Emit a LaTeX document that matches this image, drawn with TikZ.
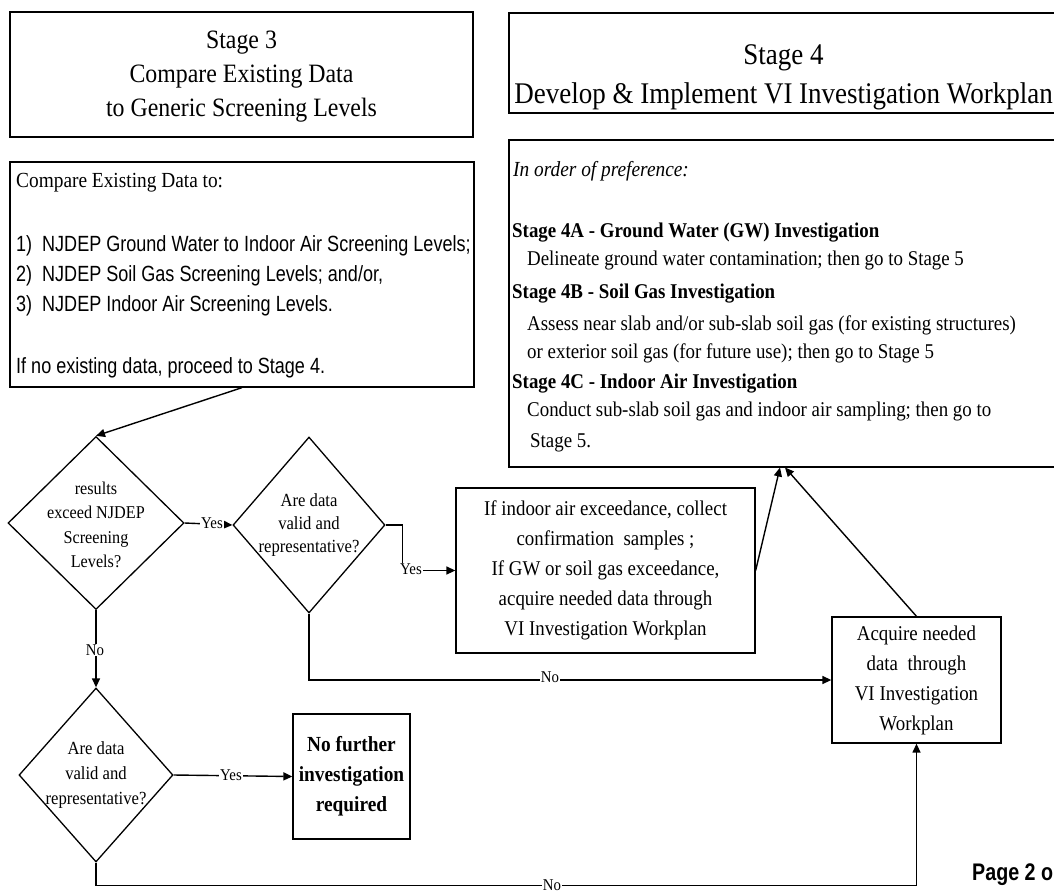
\documentclass[tikz,border=0pt]{standalone}
\usepackage{fontspec}
\setmainfont{Liberation Serif}[FakeStretch=0.9]
\newfontfamily\nsans{Liberation Sans}[FakeStretch=0.82]
\usetikzlibrary{shapes.geometric,arrows.meta}
\newcommand\myfs[2]{\fontsize{#1}{#2}\selectfont}
\tikzset{
  box/.style={draw, line width=1.3pt, inner sep=0pt, align=center},
  dia/.style={draw, diamond, line width=1.3pt, inner sep=0pt},
  con/.style={line width=1.4pt},
  arr/.style={line width=1.4pt, -{Triangle[length=9pt,width=8pt]}},
  lbl/.style={fill=white, inner sep=1pt, font=\myfs{16.5}{16.5}},
  ltxt/.style={anchor=base west, inner sep=0pt},
  dtxt/.style={align=center, inner sep=0pt},
}
\begin{document}
\begin{tikzpicture}[x=1pt,y=-1pt]
\useasboundingbox (0,0) rectangle (1054,894);
\clip (0,0) rectangle (1054,894);
\fill[white] (0,0) rectangle (1054,894);

% ---------- Stage 3 ----------
\node[box, minimum width=463pt, minimum height=125pt] (s3t) at (241.5,74.5) {};
\node[dtxt, font=\myfs{26.5}{34}] (s3tt) at (241.5,77) {Stage 3\\Compare Existing Data\\to Generic Screening Levels};

\node[box, minimum width=464pt, minimum height=225pt] (s3b) at (242,274.5) {};
\node[ltxt, font=\myfs{21.5}{21.5}] (s3h) at (16,187) {Compare Existing Data to:};
\node[ltxt, font=\nsans\myfs{22}{22}] (n1) at (16,251) {1)};
\node[ltxt, font=\nsans\myfs{22}{22}] (t1) at (42,251) {NJDEP Ground Water to Indoor Air Screening Levels;};
\node[ltxt, font=\nsans\myfs{22}{22}] (n2) at (16,281) {2)};
\node[ltxt, font=\nsans\myfs{22}{22}] (t2) at (42,281) {NJDEP Soil Gas Screening Levels; and/or,};
\node[ltxt, font=\nsans\myfs{22}{22}] (n3) at (16,311) {3)};
\node[ltxt, font=\nsans\myfs{22}{22}] (t3) at (42,311) {NJDEP Indoor Air Screening Levels.};
\node[ltxt, font=\nsans\myfs{22}{22}] (t4) at (16,373) {If no existing data, proceed to Stage 4.};

% ---------- Stage 4 ----------
\node[box, minimum width=691pt, minimum height=100pt] (s4t) at (854.5,63) {};
\node[dtxt, font=\myfs{30}{39}] (s4tt) at (783.5,77.5) {Stage 4\\Develop \& Implement VI Investigation Workplan};

\node[box, minimum width=691pt, minimum height=327pt] (s4b) at (854.5,303.5) {};
\node[ltxt, font=\itshape\myfs{21.5}{21.5}] (s4i) at (513,176) {In order of preference:};
\node[ltxt, font=\bfseries\myfs{21}{21}] (s4a) at (512,237) {Stage 4A - Ground Water (GW) Investigation};
\node[ltxt, font=\myfs{21}{21}] (s4a1) at (527,265) {Delineate ground water contamination; then go to Stage 5};
\node[ltxt, font=\bfseries\myfs{21}{21}] (s4bh) at (512,298) {Stage 4B - Soil Gas Investigation};
\node[ltxt, font=\myfs{21}{21}] (s4b1) at (527,330) {Assess near slab and/or sub-slab soil gas (for existing structures)};
\node[ltxt, font=\myfs{21}{21}] (s4b2) at (527,358) {or exterior soil gas (for future use); then go to Stage 5};
\node[ltxt, font=\bfseries\myfs{21}{21}] (s4c) at (512,388) {Stage 4C - Indoor Air Investigation};
\node[ltxt, font=\myfs{21}{21}] (s4c1) at (527,416) {Conduct sub-slab soil gas and indoor air sampling; then go to};
\node[ltxt, font=\myfs{21}{21}] (s4c2) at (530,447) {Stage 5.};
\coordinate (s4inA) at (780,467.5);
\coordinate (s4inB) at (785,467.5);

% ---------- decisions ----------
\node[dia, minimum width=176pt, minimum height=173pt] (d1) at (96,523) {};
\node[dtxt, font=\myfs{18}{24.5}] (d1t) at (96,525) {results\\exceed NJDEP\\Screening\\Levels?};

\node[dia, minimum width=152pt, minimum height=176pt] (d2) at (309,525) {};
\node[dtxt, font=\myfs{18.5}{23}] (d2t) at (309,525) {Are data\\valid and\\representative?};

\node[dia, minimum width=154pt, minimum height=174pt] (d3) at (96,775) {};
\node[dtxt, font=\myfs{18.5}{25}] (d3t) at (96,775) {Are data\\valid and\\representative?};

% ---------- boxes ----------
\node[box, minimum width=299pt, minimum height=165pt, font=\myfs{21}{30}] (b1) at (605.5,570.5)
  {If indoor air exceedance, collect\\confirmation\ \ samples ;\\If GW or soil gas exceedance,\\acquire needed data through\\VI Investigation Workplan};

\node[box, minimum width=169pt, minimum height=126pt, font=\myfs{21}{30}] (acq) at (916.5,680)
  {Acquire needed\\data\ \ through\\VI Investigation\\Workplan};

\node[box, minimum width=117pt, minimum height=125pt, font=\bfseries\myfs{21.5}{30}] (nf) at (351.5,776.5)
  {No further\\investigation\\required};

\node[anchor=base west, inner sep=0pt, font=\nsans\bfseries\myfs{24}{24}] (pg) at (972,880) {Page 2 o};

% ---------- connectors ----------
\draw[arr] (s3b.south) -- (d1.north);
\draw[arr] (d1.east) -- (d2.west);
\draw[arr] (d2.east) -- ++(17,0) |- (b1.west);
\draw[arr] (d1.south) -- (d3.north);
\draw[arr] (d3.east) -- (nf.west);
\draw[arr] (d2.south) |- (acq.west);
\draw[arr] (d3.south) -- ++(0,23) -| (acq.south);
\draw[arr] (b1.east) -- (s4inA);
\draw[arr] (acq.north) -- (s4inB);

% ---------- labels ----------
\node[lbl] (ly1) at (212,523) {Yes};
\node[lbl] (ly2) at (411,569) {Yes};
\node[lbl] (ln1) at (95,650) {No};
\node[lbl] (ly3) at (231,775) {Yes};
\node[lbl] (ln2) at (550,677) {No};
\node[lbl] (ln3) at (552,885) {No};
\end{tikzpicture}
\end{document}
